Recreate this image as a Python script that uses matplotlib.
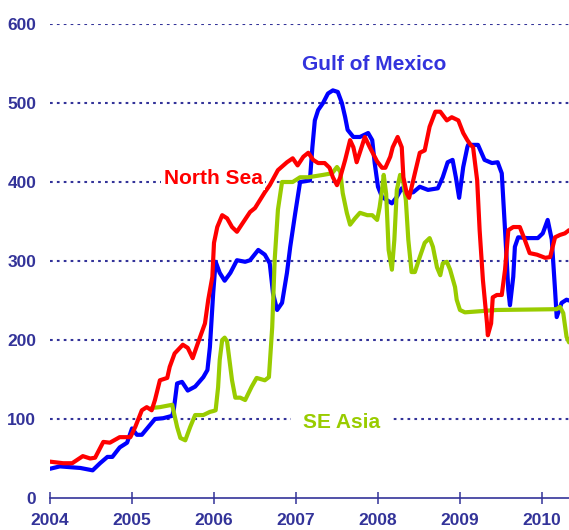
#Chart: rig day rates by region (Gulf of Mexico, North Sea, SE Asia), 2004-2010

import numpy as np
import matplotlib
matplotlib.use("Agg")
import matplotlib.pyplot as plt

#-----------------------------------------------------------------------#
#Data (x in decimal years)
#-----------------------------------------------------------------------#

gulfYears = [2004.00, 2004.12, 2004.37, 2004.52, 2004.61, 2004.70, 2004.76, 2004.85, 2004.94, 2005.00,
             2005.06, 2005.12, 2005.20, 2005.28, 2005.38, 2005.49, 2005.51, 2005.55, 2005.61, 2005.68,
             2005.77, 2005.87, 2005.92, 2005.95, 2005.99, 2006.02, 2006.07, 2006.13, 2006.20, 2006.28,
             2006.38, 2006.44, 2006.54, 2006.62, 2006.68, 2006.72, 2006.77, 2006.83, 2006.89, 2006.93,
             2006.99, 2007.05, 2007.17, 2007.20, 2007.23, 2007.27, 2007.33, 2007.39, 2007.45, 2007.51,
             2007.56, 2007.60, 2007.63, 2007.70, 2007.78, 2007.88, 2007.93, 2007.96, 2008.00, 2008.05,
             2008.11, 2008.17, 2008.23, 2008.29, 2008.35, 2008.43, 2008.51, 2008.61, 2008.73, 2008.79,
             2008.85, 2008.91, 2008.95, 2008.99, 2009.04, 2009.09, 2009.10, 2009.22, 2009.30, 2009.39,
             2009.46, 2009.51, 2009.55, 2009.59, 2009.61, 2009.65, 2009.67, 2009.71, 2009.82, 2009.95,
             2010.01, 2010.07, 2010.12, 2010.16, 2010.18, 2010.24, 2010.30, 2010.33]
gulfRates = [37, 40, 38, 35, 44, 52, 52, 64, 70, 88,
             80, 80, 90, 100, 101, 104, 112, 145, 147, 136,
             141, 153, 162, 191, 259, 299, 285, 275, 285, 301,
             299, 301, 314, 308, 297, 259, 238, 247, 285, 318,
             360, 400, 402, 444, 478, 491, 500, 512, 516, 514,
             500, 482, 466, 457, 457, 462, 453, 424, 394, 381,
             377, 373, 381, 392, 386, 387, 394, 390, 392, 406,
             425, 428, 406, 380, 419, 444, 447, 447, 428, 424,
             425, 411, 339, 263, 244, 280, 318, 330, 329, 329,
             335, 352, 327, 263, 229, 247, 251, 250]

northYears = [2004.00, 2004.16, 2004.27, 2004.40, 2004.49, 2004.55, 2004.65, 2004.73, 2004.85, 2004.98,
              2005.04, 2005.12, 2005.18, 2005.24, 2005.28, 2005.34, 2005.43, 2005.46, 2005.52, 2005.62,
              2005.68, 2005.74, 2005.80, 2005.89, 2005.93, 2005.98, 2006.00, 2006.04, 2006.10, 2006.16,
              2006.22, 2006.28, 2006.35, 2006.44, 2006.50, 2006.56, 2006.62, 2006.68, 2006.78, 2006.89,
              2006.96, 2007.02, 2007.09, 2007.15, 2007.21, 2007.27, 2007.35, 2007.41, 2007.45, 2007.50,
              2007.54, 2007.60, 2007.66, 2007.70, 2007.74, 2007.80, 2007.84, 2007.90, 2007.99, 2008.05,
              2008.09, 2008.15, 2008.18, 2008.24, 2008.29, 2008.31, 2008.35, 2008.38, 2008.45, 2008.51,
              2008.57, 2008.63, 2008.70, 2008.76, 2008.84, 2008.90, 2008.98, 2009.04, 2009.09, 2009.13,
              2009.16, 2009.21, 2009.24, 2009.28, 2009.33, 2009.34, 2009.38, 2009.40, 2009.45, 2009.51,
              2009.55, 2009.59, 2009.65, 2009.73, 2009.79, 2009.85, 2009.94, 2010.04, 2010.10, 2010.16,
              2010.22, 2010.28, 2010.33]
northRates = [46, 44, 44, 53, 50, 51, 71, 70, 77, 77,
              90, 111, 115, 111, 124, 149, 152, 166, 183, 194,
              190, 177, 195, 221, 251, 280, 323, 343, 358, 354,
              343, 337, 348, 362, 367, 377, 387, 396, 415, 425,
              430, 421, 432, 437, 428, 424, 424, 418, 406, 396,
              406, 428, 453, 444, 425, 444, 457, 444, 426, 418,
              418, 432, 444, 457, 444, 406, 386, 380, 411, 437,
              440, 470, 489, 489, 478, 482, 478, 462, 453, 447,
              444, 402, 339, 276, 221, 206, 221, 254, 257, 257,
              289, 339, 343, 343, 327, 310, 308, 304, 305, 330,
              333, 335, 339]

asiaYears = [2005.24, 2005.34, 2005.49, 2005.55, 2005.59, 2005.65, 2005.71, 2005.77, 2005.87, 2005.95,
             2005.99, 2006.02, 2006.05, 2006.07, 2006.10, 2006.13, 2006.16, 2006.22, 2006.26, 2006.32,
             2006.38, 2006.46, 2006.52, 2006.62, 2006.67, 2006.71, 2006.74, 2006.78, 2006.83, 2006.90,
             2006.96, 2007.05, 2007.15, 2007.33, 2007.44, 2007.50, 2007.54, 2007.57, 2007.62, 2007.66,
             2007.72, 2007.78, 2007.87, 2007.93, 2007.99, 2008.02, 2008.05, 2008.07, 2008.10, 2008.13,
             2008.17, 2008.20, 2008.23, 2008.27, 2008.30, 2008.34, 2008.37, 2008.41, 2008.45, 2008.51,
             2008.57, 2008.63, 2008.67, 2008.72, 2008.76, 2008.79, 2008.84, 2008.88, 2008.94, 2008.96,
             2009.00, 2009.06, 2009.45, 2010.18, 2010.22, 2010.26, 2010.30, 2010.33]
asiaRates = [114, 115, 118, 90, 76, 73, 90, 105, 105, 109,
             110, 111, 140, 175, 200, 203, 198, 149, 127, 127,
             124, 141, 152, 149, 153, 216, 301, 365, 400, 400,
             400, 406, 406, 409, 411, 419, 413, 386, 361, 346,
             354, 361, 358, 358, 352, 368, 390, 409, 385, 314,
             289, 327, 390, 409, 406, 377, 327, 286, 286, 305,
             323, 329, 318, 292, 282, 297, 299, 289, 267, 251,
             238, 235, 238, 239, 242, 234, 204, 197]

yearTicks = [2004, 2005, 2006, 2007, 2008, 2009, 2010]
rateTicks = [0, 100, 200, 300, 400, 500, 600]

navy = '#333399'

plt.rcParams['font.family'] = ['Liberation Sans', 'DejaVu Sans']

fig = plt.figure(figsize=(5.69, 5.30), dpi=100)
ax = fig.add_axes([0.0879, 0.0604, 0.9121, 0.8943])

lineStyle = dict(lw=3, solid_joinstyle='round', solid_capstyle='round')
ax.plot(gulfYears, gulfRates, color='#0000ff', zorder=3, **lineStyle)
ax.plot(asiaYears, asiaRates, color='#99cc00', zorder=4, **lineStyle)
ax.plot(northYears, northRates, color='#ff0000', zorder=5, **lineStyle)

#dotted gridlines
for r in rateTicks[1:]:
    ax.axhline(r, color=navy, lw=1.5, ls=(0, (1.3, 2.0)), zorder=1)

ax.set_xlim(2004, 2010.33)
ax.set_ylim(0, 600)
ax.set_xticks(yearTicks)
ax.set_yticks(rateTicks)
ax.set_xticklabels([str(y) for y in yearTicks])

for side in ['left', 'right', 'top']:
    ax.spines[side].set_visible(False)
ax.spines['bottom'].set_color(navy)
ax.spines['bottom'].set_linewidth(1.2)

ax.tick_params(axis='x', direction='inout', length=8, width=1.1, color=navy,
               labelcolor=navy, labelsize=12.5, pad=7)
ax.tick_params(axis='y', length=0, labelcolor=navy, labelsize=12.5, pad=10)
for lab in ax.get_xticklabels() + ax.get_yticklabels():
    lab.set_fontweight('bold')

#series labels
ax.text(2007.95, 549, 'Gulf of Mexico', color='#3333dd', fontsize=15, fontweight='bold',
        ha='center', va='center', zorder=6)
ax.text(2005.99, 405, 'North Sea', color='#ff0000', fontsize=15, fontweight='bold',
        ha='center', va='center', zorder=6,
        bbox=dict(facecolor='white', edgecolor='none', pad=2))
ax.text(2007.55, 95, 'SE Asia', color='#99cc00', fontsize=15, fontweight='bold',
        ha='center', va='center', zorder=6,
        bbox=dict(facecolor='white', edgecolor='none', pad=8))

fig.savefig("out.png", dpi=100)
